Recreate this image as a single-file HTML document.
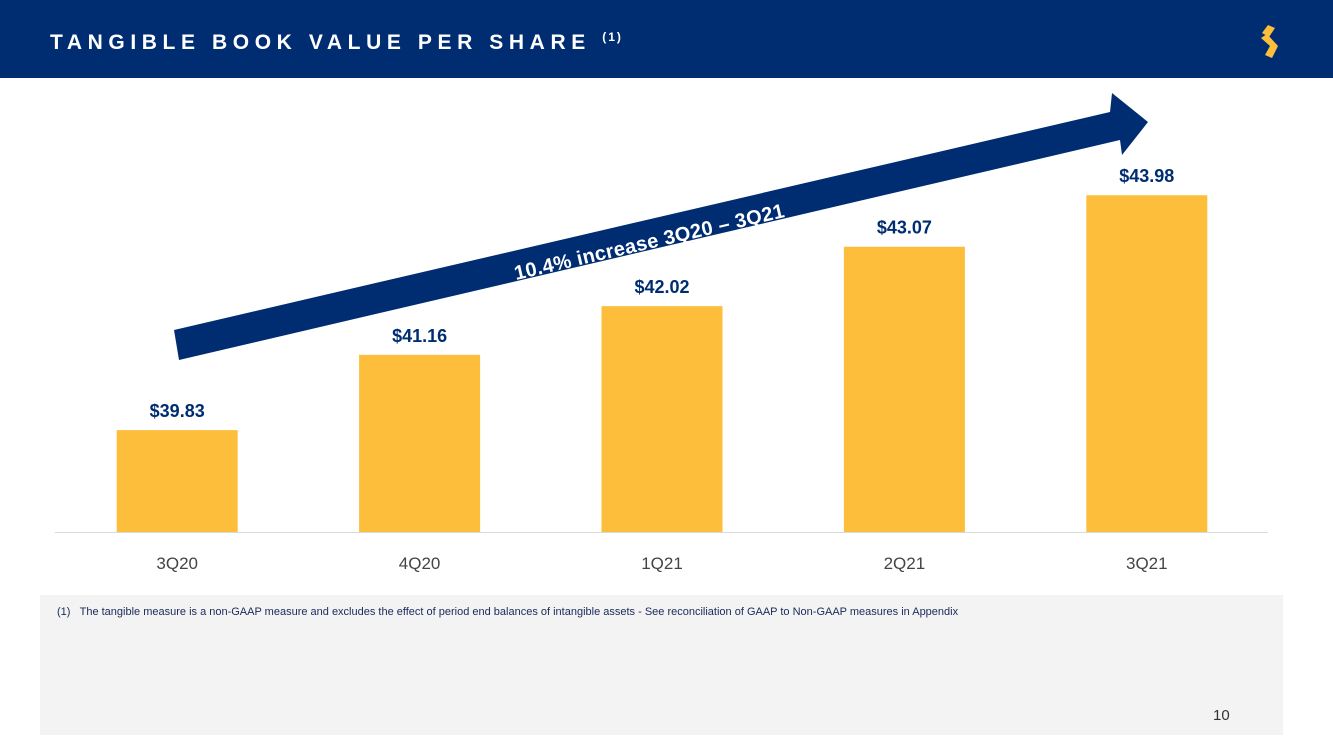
<!DOCTYPE html>
<html><head><meta charset="utf-8"><style>
body{margin:0;width:1333px;height:750px;overflow:hidden;background:#fff;font-family:"Liberation Sans","DejaVu Sans",sans-serif;position:relative}
#hdr{position:absolute;left:0;top:0;width:1333px;height:78px;background:#002d72}
#title{position:absolute;left:50px;top:30px;color:#fff;font-weight:bold;font-size:21px;letter-spacing:5.6px}
#title sup{font-size:12px;letter-spacing:2px}
#foot{position:absolute;left:40px;top:595px;width:1243px;height:140px;background:#f3f3f3}
#note{position:absolute;left:57px;top:606px;font-size:11px;color:#1a2a5a}
#pg{position:absolute;left:1213px;top:707px;font-size:15px;color:#333}
</style></head><body>
<div id="hdr"></div>
<div id="title">TANGIBLE BOOK VALUE PER SHARE <sup>(1)</sup></div>
<svg style="position:absolute;left:1255px;top:22px" width="30" height="40" viewBox="0 0 30 40">
<path d="M7 11 L13 3 L20 6 L14 15 Z" fill="#fdbe3b"/>
<path d="M6 16 L12 12 L23 24 L17 36 L10 33 L15 24 Z" fill="#fdbe3b"/>
</svg>
<svg id="chart" style="position:absolute;left:0;top:0" width="1333" height="595"></svg>
<div id="foot"></div>
<div id="note">(1)&nbsp;&nbsp;&nbsp;The tangible measure is a non-GAAP measure and excludes the effect of period end balances of intangible assets - See reconciliation of GAAP to Non-GAAP measures in Appendix</div>
<div id="pg">10</div>
<script>
const categories=["3Q20","4Q20","1Q21","2Q21","3Q21"];
const values=[39.83,41.16,42.02,43.07,43.98];
const valueLabels=["$39.83","$41.16","$42.02","$43.07","$43.98"];
const ymin=38.03, pxPer=56.6, base=532, x0=56, step=242.4, bw=121;
const ns="http://www.w3.org/2000/svg";
const svg=document.getElementById('chart');
function y(v){return base-(v-ymin)*pxPer;}
function xc(i){return x0+step*(i+0.5);}
function mk(t,a){const e=document.createElementNS(ns,t);for(const k in a)e.setAttribute(k,a[k]);svg.appendChild(e);return e;}
const ax=mk('line',{x1:55,x2:1268,y1:base+0.5,y2:base+0.5,stroke:'#d9d9d9','stroke-width':1});


categories.forEach((c,i)=>{
  const r=mk('rect',{x:xc(i)-bw/2,y:y(values[i]),width:bw,height:base-y(values[i]),fill:'#fdbe3b'});
  
  
  const t=mk('text',{x:xc(i),y:y(values[i])-13,'text-anchor':'middle','font-size':18,'font-weight':'bold',fill:'#002d72','font-family':'Liberation Sans, sans-serif'});
  t.textContent=valueLabels[i];
  
  
  const l=mk('text',{x:xc(i),y:569,'text-anchor':'middle','font-size':17,fill:'#444','font-family':'Liberation Sans, sans-serif'});
  l.textContent=c;
  
  
});
const ar=mk('polygon',{points:'174,330 1110,112 1112,93 1148,122 1122,155 1120,140 179,360',fill:'#002d72'});


const at=mk('text',{x:0,y:0,'font-size':20,'font-weight':'bold',fill:'#fff','font-family':'Liberation Sans, sans-serif','letter-spacing':'0.3',transform:'translate(516,280) rotate(-13.2)'});
at.textContent='10.4% increase 3Q20 – 3Q21';


</script>
</body></html>
